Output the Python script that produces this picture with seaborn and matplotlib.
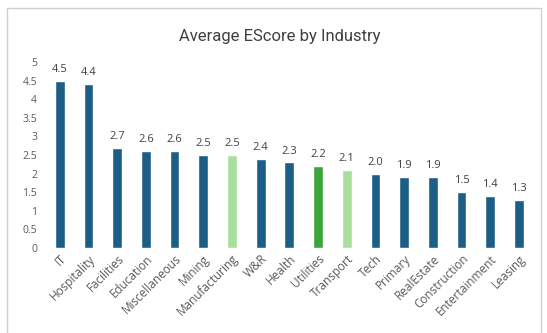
import matplotlib
matplotlib.use("Agg")
import matplotlib.pyplot as plt
import seaborn as sns
import pandas as pd
from matplotlib.patches import Rectangle

industries = ["IT", "Hospitality", "Facilities", "Education", "Miscellaneous",
              "Mining", "Manufacturing", "W&R", "Health", "Utilities",
              "Transport", "Tech", "Primary", "RealEstate", "Construction",
              "Entertainment", "Leasing"]
escores = [4.5, 4.4, 2.7, 2.6, 2.6, 2.5, 2.5, 2.4, 2.3, 2.2, 2.1, 2.0, 1.9,
           1.9, 1.5, 1.4, 1.3]
y_ticks = [0, 0.5, 1, 1.5, 2, 2.5, 3, 3.5, 4, 4.5, 5]
y_tick_labels = ["0", "0.5", "1", "1.5", "2", "2.5", "3", "3.5", "4", "4.5", "5"]

BLUE = "#1c5e86"
LIGHT_GREEN = "#a9df9c"
GREEN = "#3aa63a"
highlight = {"Manufacturing": LIGHT_GREEN, "Utilities": GREEN, "Transport": LIGHT_GREEN}
palette = {name: highlight.get(name, BLUE) for name in industries}

df = pd.DataFrame({"Industry": industries, "EScore": escores})

sns.set_theme(style="white")
plt.rcParams["font.family"] = ["Open Sans", "DejaVu Sans"]

fig = plt.figure(figsize=(5.47, 3.33), dpi=100)
ax = fig.add_axes([0.083, 0.255, 0.892, 0.559])

sns.barplot(data=df, x="Industry", y="EScore", hue="Industry", palette=palette,
            width=0.34, legend=False, ax=ax, saturation=1)

for i, v in enumerate(escores):
    ax.text(i, v + 0.16, f"{v:.1f}", ha="center", va="bottom",
            fontsize=8, color="#404040")

ax.set_ylim(0, 5)
ax.set_xlim(-0.5, len(industries) - 0.5)
ax.set_yticks(y_ticks)
ax.set_yticklabels(y_tick_labels)
ax.tick_params(axis="y", labelsize=7.5, colors="#595959", length=0, pad=6)
ax.tick_params(axis="x", labelsize=8.5, colors="#595959", length=0, pad=3)
for lbl in ax.get_xticklabels():
    lbl.set_rotation(45)
    lbl.set_ha("right")
    lbl.set_rotation_mode("anchor")
ax.set_xlabel("")
ax.set_ylabel("")
for s in ax.spines.values():
    s.set_visible(False)

fig.text(0.512, 0.89, "Average EScore by Industry", ha="center", va="center",
         fontsize=12, color="#404040", family=["Roboto", "DejaVu Sans"])

fig.patches.append(Rectangle((7 / 547, -0.05), 534 / 547, 1 - 8 / 333 + 0.05,
                             transform=fig.transFigure, fill=False,
                             edgecolor="#d0d0d0", linewidth=1.0))

fig.savefig("out.png", dpi=100, facecolor="white")
